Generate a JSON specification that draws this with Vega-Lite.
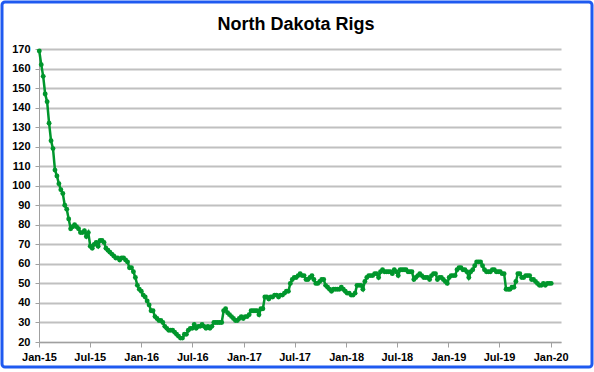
{
"$schema": "https://vega.github.io/schema/vega-lite/v6.json",
"width": 522,
"height": 293,
"autosize": "none",
"padding": {"left": 39, "top": 49, "right": 33, "bottom": 30},
"background": "white",
"title": {"text": "North Dakota Rigs", "font": "Liberation Sans", "fontSize": 18, "fontWeight": "bold", "color": "black", "anchor": "middle", "frame": "group", "offset": -33, "dx": -4},
"config": {"view": {"stroke": null}, "font": "Liberation Sans"},
"layer": [
{"data": {"values": [{}]}, "mark": {"type": "rect", "fill": null, "stroke": "#1f5af0", "strokeWidth": 3, "cornerRadius": 3}, "encoding": {"x": {"value": -37}, "x2": {"value": 553}, "y": {"value": -47}, "y2": {"value": 318}}},
{"data": {"values": [
{"d":"2015-01-02","v":169},{"d":"2015-01-09","v":162},{"d":"2015-01-16","v":156},{"d":"2015-01-23","v":147},{"d":"2015-01-30","v":143},
{"d":"2015-02-06","v":132},{"d":"2015-02-13","v":123},{"d":"2015-02-20","v":119},{"d":"2015-02-27","v":108},
{"d":"2015-03-06","v":105},{"d":"2015-03-13","v":101},{"d":"2015-03-20","v":98},{"d":"2015-03-27","v":96},
{"d":"2015-04-03","v":90},{"d":"2015-04-10","v":88},{"d":"2015-04-17","v":83},{"d":"2015-04-24","v":78},
{"d":"2015-05-01","v":79},{"d":"2015-05-08","v":80},{"d":"2015-05-15","v":79},{"d":"2015-05-22","v":78},{"d":"2015-05-29","v":76},
{"d":"2015-06-05","v":76},{"d":"2015-06-12","v":77},{"d":"2015-06-19","v":74},{"d":"2015-06-26","v":76},
{"d":"2015-07-03","v":69},{"d":"2015-07-10","v":68},{"d":"2015-07-17","v":70},{"d":"2015-07-24","v":71},{"d":"2015-07-31","v":69},
{"d":"2015-08-07","v":72},{"d":"2015-08-14","v":72},{"d":"2015-08-21","v":71},{"d":"2015-08-28","v":68},
{"d":"2015-09-04","v":67},{"d":"2015-09-11","v":66},{"d":"2015-09-18","v":65},{"d":"2015-09-25","v":64},
{"d":"2015-10-02","v":63},{"d":"2015-10-09","v":63},{"d":"2015-10-16","v":62},{"d":"2015-10-23","v":63},{"d":"2015-10-30","v":63},
{"d":"2015-11-06","v":62},{"d":"2015-11-13","v":61},{"d":"2015-11-20","v":58},{"d":"2015-11-27","v":58},
{"d":"2015-12-04","v":56},{"d":"2015-12-11","v":53},{"d":"2015-12-18","v":49},{"d":"2015-12-25","v":47},
{"d":"2016-01-01","v":46},{"d":"2016-01-08","v":44},{"d":"2016-01-15","v":43},{"d":"2016-01-22","v":41},{"d":"2016-01-29","v":39},
{"d":"2016-02-05","v":36},{"d":"2016-02-12","v":36},{"d":"2016-02-19","v":33},{"d":"2016-02-26","v":32},
{"d":"2016-03-04","v":31},{"d":"2016-03-11","v":31},{"d":"2016-03-18","v":30},{"d":"2016-03-25","v":28},
{"d":"2016-04-01","v":27},{"d":"2016-04-08","v":26},{"d":"2016-04-15","v":26},{"d":"2016-04-22","v":26},{"d":"2016-04-29","v":25},
{"d":"2016-05-06","v":24},{"d":"2016-05-13","v":23},{"d":"2016-05-20","v":22},{"d":"2016-05-27","v":22},
{"d":"2016-06-03","v":24},{"d":"2016-06-10","v":24},{"d":"2016-06-17","v":26},{"d":"2016-06-24","v":27},
{"d":"2016-07-01","v":27},{"d":"2016-07-08","v":29},{"d":"2016-07-15","v":27},{"d":"2016-07-22","v":28},{"d":"2016-07-29","v":28},
{"d":"2016-08-05","v":29},{"d":"2016-08-12","v":28},{"d":"2016-08-19","v":27},{"d":"2016-08-26","v":28},
{"d":"2016-09-02","v":27},{"d":"2016-09-09","v":28},{"d":"2016-09-16","v":30},{"d":"2016-09-23","v":30},{"d":"2016-09-30","v":30},
{"d":"2016-10-07","v":30},{"d":"2016-10-14","v":30},{"d":"2016-10-21","v":36},{"d":"2016-10-28","v":37},
{"d":"2016-11-04","v":35},{"d":"2016-11-11","v":34},{"d":"2016-11-18","v":33},{"d":"2016-11-25","v":32},
{"d":"2016-12-02","v":31},{"d":"2016-12-09","v":31},{"d":"2016-12-16","v":32},{"d":"2016-12-23","v":33},{"d":"2016-12-30","v":32},
{"d":"2017-01-06","v":33},{"d":"2017-01-13","v":33},{"d":"2017-01-20","v":34},{"d":"2017-01-27","v":36},
{"d":"2017-02-03","v":36},{"d":"2017-02-10","v":36},{"d":"2017-02-17","v":36},{"d":"2017-02-24","v":34},
{"d":"2017-03-03","v":37},{"d":"2017-03-10","v":37},{"d":"2017-03-17","v":43},{"d":"2017-03-24","v":43},{"d":"2017-03-31","v":42},
{"d":"2017-04-07","v":43},{"d":"2017-04-14","v":43},{"d":"2017-04-21","v":44},{"d":"2017-04-28","v":44},
{"d":"2017-05-05","v":43},{"d":"2017-05-12","v":44},{"d":"2017-05-19","v":44},{"d":"2017-05-26","v":45},
{"d":"2017-06-02","v":46},{"d":"2017-06-09","v":46},{"d":"2017-06-16","v":50},{"d":"2017-06-23","v":52},{"d":"2017-06-30","v":53},
{"d":"2017-07-07","v":53},{"d":"2017-07-14","v":54},{"d":"2017-07-21","v":55},{"d":"2017-07-28","v":54},
{"d":"2017-08-04","v":54},{"d":"2017-08-11","v":52},{"d":"2017-08-18","v":52},{"d":"2017-08-25","v":53},
{"d":"2017-09-01","v":54},{"d":"2017-09-08","v":52},{"d":"2017-09-15","v":50},{"d":"2017-09-22","v":50},{"d":"2017-09-29","v":51},
{"d":"2017-10-06","v":52},{"d":"2017-10-13","v":52},{"d":"2017-10-20","v":49},{"d":"2017-10-27","v":48},
{"d":"2017-11-03","v":47},{"d":"2017-11-10","v":46},{"d":"2017-11-17","v":47},{"d":"2017-11-24","v":47},
{"d":"2017-12-01","v":47},{"d":"2017-12-08","v":47},{"d":"2017-12-15","v":48},{"d":"2017-12-22","v":47},{"d":"2017-12-29","v":46},
{"d":"2018-01-05","v":45},{"d":"2018-01-12","v":45},{"d":"2018-01-19","v":44},{"d":"2018-01-26","v":44},
{"d":"2018-02-02","v":45},{"d":"2018-02-09","v":49},{"d":"2018-02-16","v":49},{"d":"2018-02-23","v":49},
{"d":"2018-03-02","v":47},{"d":"2018-03-09","v":51},{"d":"2018-03-16","v":53},{"d":"2018-03-23","v":54},{"d":"2018-03-30","v":54},
{"d":"2018-04-06","v":54},{"d":"2018-04-13","v":55},{"d":"2018-04-20","v":55},{"d":"2018-04-27","v":53},
{"d":"2018-05-04","v":56},{"d":"2018-05-11","v":57},{"d":"2018-05-18","v":56},{"d":"2018-05-25","v":56},
{"d":"2018-06-01","v":56},{"d":"2018-06-08","v":56},{"d":"2018-06-15","v":55},{"d":"2018-06-22","v":57},{"d":"2018-06-29","v":56},
{"d":"2018-07-06","v":54},{"d":"2018-07-13","v":57},{"d":"2018-07-20","v":57},{"d":"2018-07-27","v":57},
{"d":"2018-08-03","v":57},{"d":"2018-08-10","v":56},{"d":"2018-08-17","v":56},{"d":"2018-08-24","v":56},{"d":"2018-08-31","v":52},
{"d":"2018-09-07","v":53},{"d":"2018-09-14","v":54},{"d":"2018-09-21","v":55},{"d":"2018-09-28","v":54},
{"d":"2018-10-05","v":53},{"d":"2018-10-12","v":53},{"d":"2018-10-19","v":53},{"d":"2018-10-26","v":52},
{"d":"2018-11-02","v":54},{"d":"2018-11-09","v":55},{"d":"2018-11-16","v":55},{"d":"2018-11-23","v":52},{"d":"2018-11-30","v":53},
{"d":"2018-12-07","v":53},{"d":"2018-12-14","v":52},{"d":"2018-12-21","v":51},{"d":"2018-12-28","v":50},
{"d":"2019-01-04","v":53},{"d":"2019-01-11","v":54},{"d":"2019-01-18","v":54},{"d":"2019-01-25","v":54},
{"d":"2019-02-01","v":57},{"d":"2019-02-08","v":58},{"d":"2019-02-15","v":58},{"d":"2019-02-22","v":57},
{"d":"2019-03-01","v":57},{"d":"2019-03-08","v":56},{"d":"2019-03-15","v":53},{"d":"2019-03-22","v":56},{"d":"2019-03-29","v":57},
{"d":"2019-04-05","v":59},{"d":"2019-04-12","v":61},{"d":"2019-04-19","v":61},{"d":"2019-04-26","v":61},
{"d":"2019-05-03","v":59},{"d":"2019-05-10","v":57},{"d":"2019-05-17","v":56},{"d":"2019-05-24","v":56},{"d":"2019-05-31","v":56},
{"d":"2019-06-07","v":57},{"d":"2019-06-14","v":57},{"d":"2019-06-21","v":56},{"d":"2019-06-28","v":56},
{"d":"2019-07-05","v":56},{"d":"2019-07-12","v":55},{"d":"2019-07-19","v":55},{"d":"2019-07-26","v":47},
{"d":"2019-08-02","v":47},{"d":"2019-08-09","v":47},{"d":"2019-08-16","v":48},{"d":"2019-08-23","v":48},{"d":"2019-08-30","v":51},
{"d":"2019-09-06","v":55},{"d":"2019-09-13","v":55},{"d":"2019-09-20","v":53},{"d":"2019-09-27","v":53},
{"d":"2019-10-04","v":54},{"d":"2019-10-11","v":54},{"d":"2019-10-18","v":54},{"d":"2019-10-25","v":52},
{"d":"2019-11-01","v":52},{"d":"2019-11-08","v":51},{"d":"2019-11-15","v":50},{"d":"2019-11-22","v":49},{"d":"2019-11-29","v":49},
{"d":"2019-12-06","v":50},{"d":"2019-12-13","v":49},{"d":"2019-12-20","v":50},{"d":"2019-12-27","v":50},
{"d":"2020-01-03","v":50}
]},
"mark": {"type": "line", "color": "#00962c", "strokeWidth": 2.5, "point": {"filled": true, "size": 24, "color": "#00962c"}},
"encoding": {
"x": {"field": "d", "type": "temporal", "scale": {"type": "utc", "domain": [{"year": 2015, "month": 1, "date": 1, "utc": true}, {"year": 2020, "month": 2, "date": 7, "utc": true}], "nice": false},
"axis": {"title": null, "grid": false, "tickCount": {"interval": "month", "step": 6}, "labelExpr": "utcFormat(datum.value, '%b-%y')", "labelFont": "Liberation Sans", "labelFontSize": 11, "labelFontWeight": "bold", "labelColor": "black", "domainColor": "#a0a0a0", "domainWidth": 1, "tickColor": "#a0a0a0", "tickSize": 5, "labelPadding": 4, "labelFlush": false, "labelOverlap": false}},
"y": {"field": "v", "type": "quantitative", "scale": {"domain": [20, 170], "nice": false, "zero": false},
"axis": {"title": null, "values": [20,30,40,50,60,70,80,90,100,110,120,130,140,150,160,170], "grid": true, "gridColor": "#c0c0c0", "gridWidth": 1.8, "labelFont": "Liberation Sans", "labelFontSize": 11, "labelFontWeight": "bold", "labelColor": "black", "domainColor": "#a0a0a0", "tickColor": "#a0a0a0", "tickSize": 4, "labelPadding": 5, "labelOverlap": false}}
}}
]
}
